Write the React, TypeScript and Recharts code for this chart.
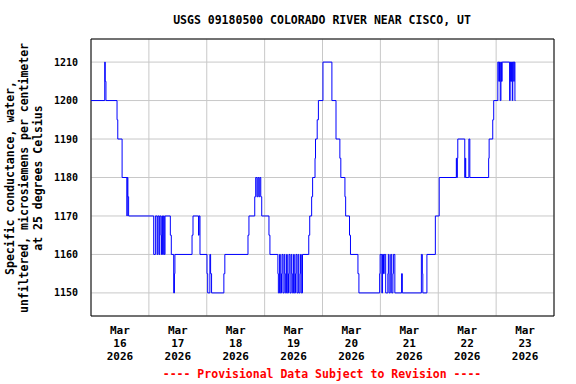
import { LineChart, Line, XAxis, YAxis, CartesianGrid, ReferenceArea } from 'recharts'

// specific conductance, 15-min readings shown as change points [hour of day, uS/cm]
const mar16: [number, number][] = [
  [0, 1200], [5.7, 1210], [5.9, 1205], [6.2, 1200], [10.8, 1195], [11.1, 1190], [12.9, 1180],
  [14.9, 1170], [15.0, 1180], [15.3, 1175], [15.6, 1170],
]
const mar17: [number, number][] = [
  [2.0, 1160], [2.7, 1170], [3.4, 1160], [3.7, 1170], [4.2, 1160], [4.5, 1170], [5.0, 1165],
  [5.2, 1160], [5.4, 1170], [5.7, 1160], [6.0, 1170], [6.4, 1160], [6.7, 1170], [8.9, 1165],
  [9.3, 1160], [10.3, 1150], [10.6, 1155], [10.8, 1160], [17.9, 1165], [18.3, 1170],
  [20.6, 1165], [20.8, 1170], [21.2, 1160],
]
const mar18: [number, number][] = [
  [0.1, 1155], [0.4, 1150], [1.3, 1160], [1.6, 1155], [2.0, 1150], [7.1, 1155], [7.5, 1160],
  [17.1, 1165], [17.5, 1170], [19.9, 1175], [20.3, 1180], [20.8, 1175], [21.2, 1180],
  [21.6, 1175], [22.0, 1180], [22.4, 1175], [22.8, 1170],
]
const mar19: [number, number][] = [
  [1.8, 1165], [2.2, 1160], [5.5, 1155], [5.7, 1150], [6.2, 1160], [6.5, 1150], [7.0, 1155],
  [7.2, 1160], [7.6, 1150], [8.1, 1160], [8.4, 1155], [8.6, 1150], [9.1, 1160], [9.4, 1150],
  [9.9, 1155], [10.1, 1160], [10.5, 1150], [11.0, 1160], [11.3, 1155], [11.5, 1150],
  [12.0, 1160], [12.3, 1150], [12.8, 1155], [13.0, 1160], [13.4, 1150], [13.9, 1160],
  [14.2, 1150], [14.7, 1155], [14.9, 1160], [15.2, 1150], [15.7, 1160], [18.3, 1165],
  [18.7, 1170], [19.5, 1175], [19.9, 1180], [20.9, 1185], [21.1, 1190], [21.8, 1195], [22.3, 1200],
]
const mar20: [number, number][] = [
  [0.2, 1210], [3.9, 1200], [5.6, 1190], [7.2, 1185], [7.6, 1180], [9.3, 1175], [9.6, 1170],
  [11.2, 1165], [11.6, 1160], [14.7, 1155], [15.1, 1150], [23.7, 1155], [23.9, 1160],
]
const mar21: [number, number][] = [
  [0.6, 1150], [0.9, 1160], [1.3, 1155], [1.6, 1160], [2.2, 1150], [3.1, 1155], [3.3, 1160],
  [3.6, 1150], [4.1, 1155], [4.3, 1160], [4.7, 1150], [5.2, 1155], [5.4, 1160], [6.0, 1150],
  [8.8, 1155], [9.1, 1150], [17.0, 1160], [17.4, 1155], [17.6, 1150], [19.3, 1160], [22.8, 1170],
]
const mar22: [number, number][] = [
  [0.4, 1180], [7.5, 1185], [7.7, 1180], [7.9, 1185], [8.1, 1190], [11.0, 1180], [11.2, 1185],
  [11.4, 1180], [12.7, 1190], [13.1, 1180], [20.9, 1185], [21.1, 1190], [22.6, 1195], [23.0, 1200],
]
const mar23: [number, number][] = [
  [0.7, 1210], [1.1, 1205], [1.4, 1210], [1.7, 1200], [2.0, 1210], [2.2, 1205], [2.5, 1210],
  [5.6, 1200], [5.8, 1210], [6.0, 1205], [6.4, 1210], [6.7, 1200], [6.9, 1210], [7.3, 1205],
  [7.5, 1210], [7.8, 1200], [8.0, 1200],
]

const days = [mar16, mar17, mar18, mar19, mar20, mar21, mar22, mar23]
const dayLabels = ['16', '17', '18', '19', '20', '21', '22', '23']
const month = 'Mar'
const year = '2026'
const yTicks = [1150, 1160, 1170, 1180, 1190, 1200, 1210]
const xTicks = [12, 36, 60, 84, 108, 132, 156, 180]
const midnights = [0, 24, 48, 72, 96, 120, 144, 168, 192]

const data = days.flatMap((d, i) => d.map(([h, v]) => ({ t: i * 24 + h, v })))

const font = '"DejaVu Sans Mono", monospace'

const DateTick = ({ x, y, payload }: any) => {
  const i = xTicks.indexOf(payload.value)
  const style = { fontFamily: font, fontWeight: 'bold' as const, fontSize: 11, fill: '#000' }
  return (
    <g>
      <text x={x} y={y + 18} textAnchor="middle" {...style}>{month}</text>
      <text x={x} y={y + 31} textAnchor="middle" {...style}>{dayLabels[i]}</text>
      <text x={x} y={y + 44} textAnchor="middle" {...style}>{year}</text>
    </g>
  )
}

export default function App() {
  const textStyle = { fontFamily: font, fontWeight: 'bold' as const, fontSize: 11.5 }
  return (
    <div style={{ position: 'absolute', left: 0, top: 0, width: 576, height: 384, background: '#fff' }}>
      <LineChart
        width={576}
        height={384}
        data={data}
        margin={{ top: 39, right: 22, bottom: 38, left: 51 }}
      >
        <CartesianGrid
          stroke="#c8c8c8"
          verticalCoordinatesGenerator={({ offset }: any) =>
            midnights.map((h) => offset.left + (h / 192) * offset.width)
          }
        />
        <XAxis
          dataKey="t"
          type="number"
          domain={[0, 192]}
          ticks={xTicks}
          tick={<DateTick />}
          tickLine={false}
          axisLine={false}
          tickSize={0}
          tickMargin={0}
          height={30}
          allowDataOverflow
          interval={0}
        />
        <YAxis
          type="number"
          domain={[1144, 1216]}
          ticks={yTicks}
          tickLine={false}
          axisLine={false}
          tickSize={0}
          tickMargin={13}
          width={40}
          interval={0}
          tick={{ fill: '#000', fontSize: 10, fontFamily: font, fontWeight: 'bold' }}
          allowDataOverflow
        />
        <Line
          type="stepAfter"
          dataKey="v"
          stroke="#0000ff"
          strokeWidth={1}
          dot={false}
          isAnimationActive={false}
        />
        <ReferenceArea x1={0} x2={192} y1={1144} y2={1216} fill="none" stroke="#000" strokeWidth={1} />
      </LineChart>
      <svg width={576} height={384} style={{ position: 'absolute', left: 0, top: 0, pointerEvents: 'none' }}>
        <text x={322} y={24} textAnchor="middle" {...textStyle}>
          USGS 09180500 COLORADO RIVER NEAR CISCO, UT
        </text>
        <text transform="translate(14,178) rotate(-90)" textAnchor="middle" {...textStyle}>
          Specific conductance, water,
        </text>
        <text transform="translate(28,178) rotate(-90)" textAnchor="middle" {...textStyle}>
          unfiltered, microsiemens per centimeter
        </text>
        <text transform="translate(42,178) rotate(-90)" textAnchor="middle" {...textStyle}>
          at 25 degrees Celsius
        </text>
        <text x={322} y={378} textAnchor="middle" {...textStyle} fill="#ff0000">
          ---- Provisional Data Subject to Revision ----
        </text>
      </svg>
    </div>
  )
}
